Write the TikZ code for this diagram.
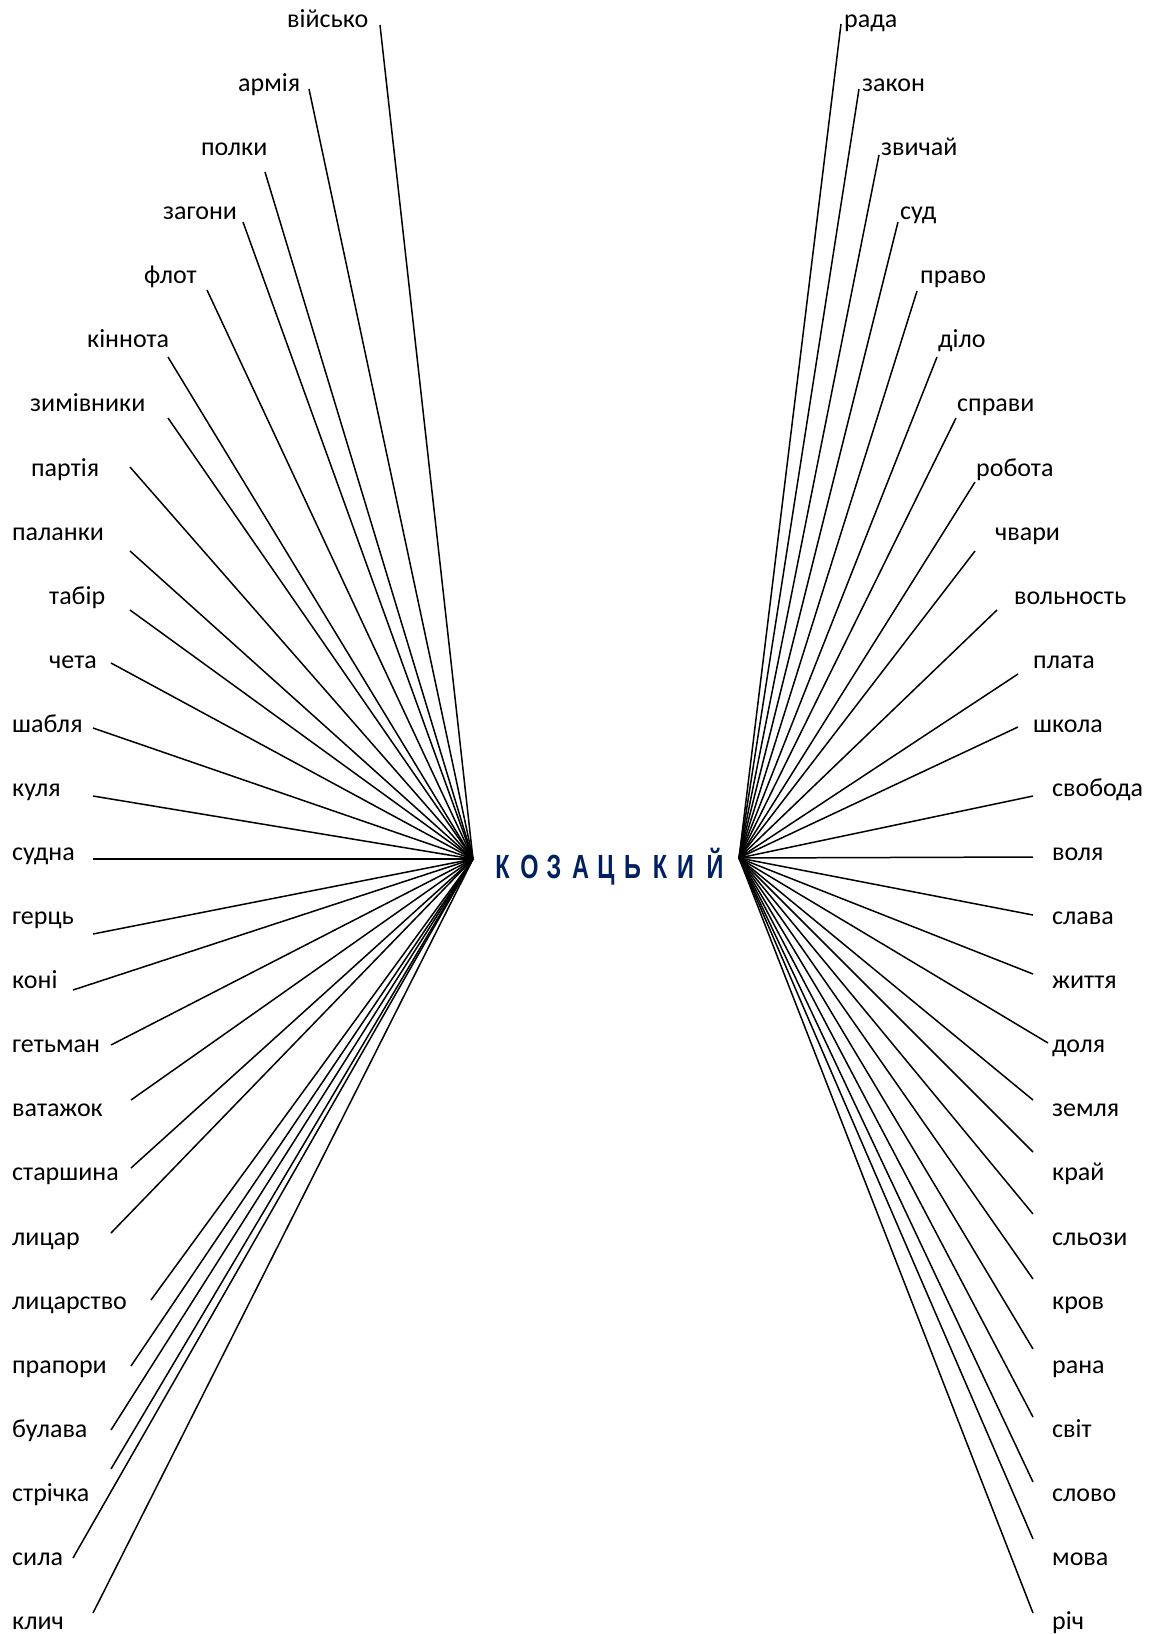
\documentclass[tikz,border=0pt]{standalone}
\usepackage{fontspec}
\setmainfont{Carlito}
\newfontfamily\titlefont{Liberation Sans}
\definecolor{titleblue}{RGB}{0,32,96}
\tikzset{
  word/.style={font=\fontsize{26}{30}\selectfont, inner sep=0pt, anchor=base west},
  spoke/.style={draw=black, line width=1.5pt},
  titleletter/.style={font=\titlefont\bfseries\fontsize{33.5}{36}\selectfont, text=titleblue, inner sep=0pt, anchor=base}
}
\begin{document}
\begin{tikzpicture}[x=1pt,y=-1pt]
\useasboundingbox (0,0) rectangle (1152,1634);

% hubs where all spokes meet
\coordinate (hubL) at (473,859);
\coordinate (hubR) at (739,858);

% title, letter by letter
\foreach \ch/\cx [count=\k] in {К/502.5,О/529.5,З/554,А/580.5,Ц/606,Ь/632.5,К/660,И/685.5,Й/715}
  \node[titleletter] (title\k) at (\cx,878.5) {\scalebox{0.7}[1]{\ch}};

% left column: word / text x / spoke end x / spoke end y
\foreach \w/\tx/\ex/\ey [count=\i from 0] in {
  військо/287/380/25, армія/238/309/89, полки/201/265/172, загони/163/243/222,
  флот/144/207/290, кіннота/87/168/357, зимівники/30/168/418, партія/31/130/467,
  паланки/12/130/551, табір/49/130/610, чета/49/111/663, шабля/12/93/728,
  куля/12/93/796, судна/12/93/859, герць/12/93/934, коні/12/73/990,
  гетьман/12/111/1045, ватажок/12/131/1100, старшина/12/131/1168, лицар/12/111/1233,
  лицарство/12/151/1300, прапори/12/131/1366, булава/12/111/1430, стрічка/12/111/1469,
  сила/12/73/1558, клич/12/93/1613}
{
  \node[word] (L\i) at (\tx,27.5+64.08*\i) {\w};
  \coordinate (eL\i) at (\ex,\ey);
  \draw[spoke] (hubL) -- (eL\i);
}

% right column
\foreach \w/\tx/\ex/\ey [count=\i from 0] in {
  рада/844/841/24, закон/862/859/89, звичай/881/879/155, суд/900/898/222,
  право/920/917/291, діло/938/937/357, справи/957/956/418, робота/976/975/482,
  чвари/995/975/551, вольность/1014/997/610, плата/1033/1018/674, школа/1033/1018/727,
  свобода/1052/1033/796, воля/1052/1033/857, слава/1052/1033/915, життя/1052/1033/974,
  доля/1052/1048/1043, земля/1052/1033/1100, край/1052/1033/1152, сльози/1052/1033/1214,
  кров/1052/1033/1279, рана/1052/1033/1349, світ/1052/1033/1417, слово/1052/1033/1482,
  мова/1052/1033/1539, річ/1052/1033/1613}
{
  \node[word] (R\i) at (\tx,27.5+64.08*\i) {\w};
  \coordinate (eR\i) at (\ex,\ey);
  \draw[spoke] (hubR) -- (eR\i);
}
\end{tikzpicture}
\end{document}
